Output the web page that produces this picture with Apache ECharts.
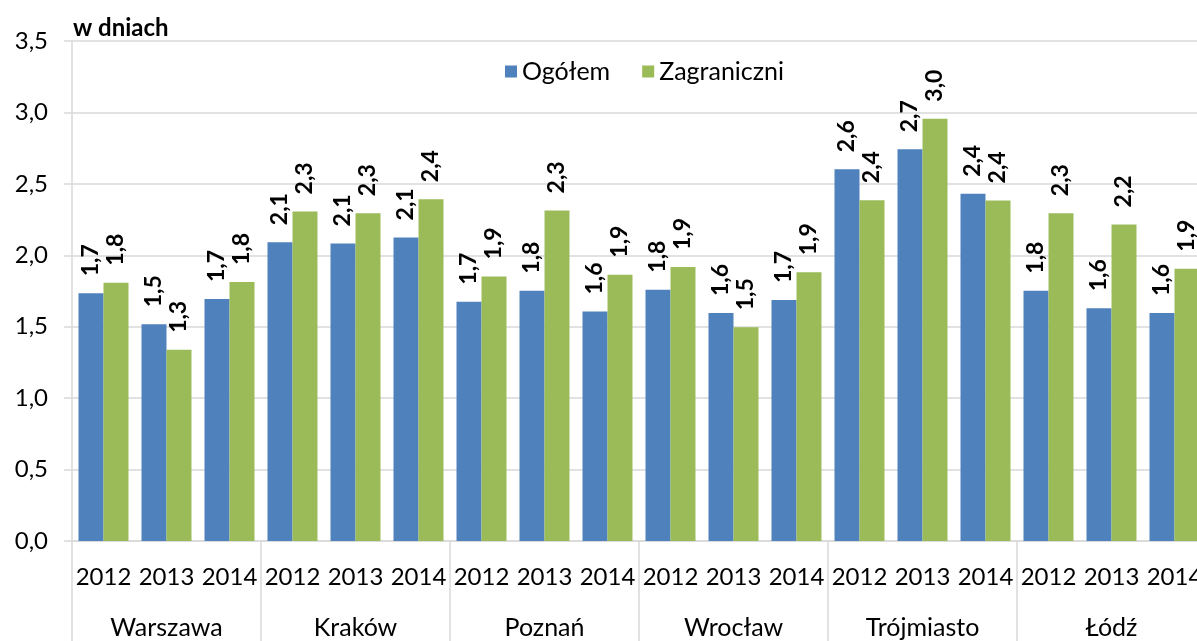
<!DOCTYPE html>
<html>
<head>
<meta charset="utf-8">
<script src="https://cdn.jsdelivr.net/npm/echarts@6/dist/echarts.min.js"></script>
<style>
  html, body { margin: 0; padding: 0; background: #fff; }
  #chart { width: 1197px; height: 641px; }
</style>
</head>
<body>
<div id="chart"></div>
<script>
const cities = ['Warszawa', 'Kraków', 'Poznań', 'Wrocław', 'Trójmiasto', 'Łódź']
const years = ['2012', '2013', '2014']
const yTicks = [0, 0.5, 1, 1.5, 2, 2.5, 3, 3.5]

// average stay, in days
const ogolem = [
    1.734, 1.517, 1.694,
    2.092, 2.083, 2.125,
    1.675, 1.752, 1.606,
    1.759, 1.596, 1.687,
    2.602, 2.742, 2.430,
    1.752, 1.629, 1.596,
]
const zagraniczni = [
    1.808, 1.338, 1.813,
    2.307, 2.295, 2.393,
    1.852, 2.314, 1.864,
    1.918, 1.496, 1.881,
    2.386, 2.956, 2.384,
    2.295, 2.216, 1.906,
]

const yearCategories = []
cities.forEach(() => years.forEach(y => yearCategories.push(y)))

const fmt = v => v.toFixed(1).replace('.', ',')
const font = 'Lato, "Open Sans", sans-serif'

const barLabel = {
    show: true,
    position: 'top',
    rotate: 90,
    align: 'left',
    verticalAlign: 'middle',
    distance: 17,
    fontFamily: font,
    fontWeight: 'bold',
    fontSize: 23,
    color: '#000',
    formatter: p => fmt(p.value),
}

const chart = echarts.init(document.getElementById('chart'))
chart.setOption({
    animation: false,
    title: {
        text: 'w dniach',
        left: 68,
        top: 11,
        textStyle: { fontFamily: font, fontWeight: 'bold', fontSize: 24, color: '#000' },
    },
    legend: {
        left: 500,
        top: 54,
        itemWidth: 12,
        itemHeight: 12,
        itemGap: 32,
        icon: 'rect',
        textStyle: { fontFamily: font, fontSize: 25, color: '#000' },
    },
    grid: { left: 72, top: 41, width: 1134, height: 500, outerBoundsMode: 'none' },
    xAxis: [{
        type: 'category',
        data: yearCategories,
        axisLine: { lineStyle: { color: '#d9d9d9', width: 1.5 } },
        axisTick: {
            show: true,
            interval: i => i % 3 === 0,
            length: 100,
            lineStyle: { color: '#d9d9d9', width: 1.5 },
        },
        axisLabel: {
            interval: 0,
            margin: 24,
            fontFamily: font,
            fontSize: 24,
            color: '#000',
        },
    }, {
        type: 'category',
        data: cities,
        position: 'bottom',
        axisLine: { show: false },
        axisTick: { show: false },
        axisLabel: {
            interval: 0,
            margin: 74,
            fontFamily: font,
            fontSize: 25,
            color: '#000',
        },
    }],
    yAxis: {
        type: 'value',
        min: yTicks[0],
        max: yTicks[yTicks.length - 1],
        interval: 0.5,
        axisLine: { show: true, lineStyle: { color: '#d9d9d9', width: 1.5 } },
        axisTick: { show: true, length: 8, lineStyle: { color: '#d9d9d9', width: 1.5 } },
        splitLine: { lineStyle: { color: '#d9d9d9', width: 1.5 } },
        axisLabel: {
            margin: 24,
            fontFamily: font,
            fontSize: 24,
            color: '#000',
            formatter: v => fmt(v),
        },
    },
    series: [{
        name: 'Ogółem',
        type: 'bar',
        data: ogolem,
        barWidth: 25,
        barGap: '0%',
        itemStyle: { color: '#4f81bd' },
        label: barLabel,
    }, {
        name: 'Zagraniczni',
        type: 'bar',
        data: zagraniczni,
        barWidth: 25,
        itemStyle: { color: '#9bbb59' },
        label: barLabel,
    }],
})
</script>
</body>
</html>
